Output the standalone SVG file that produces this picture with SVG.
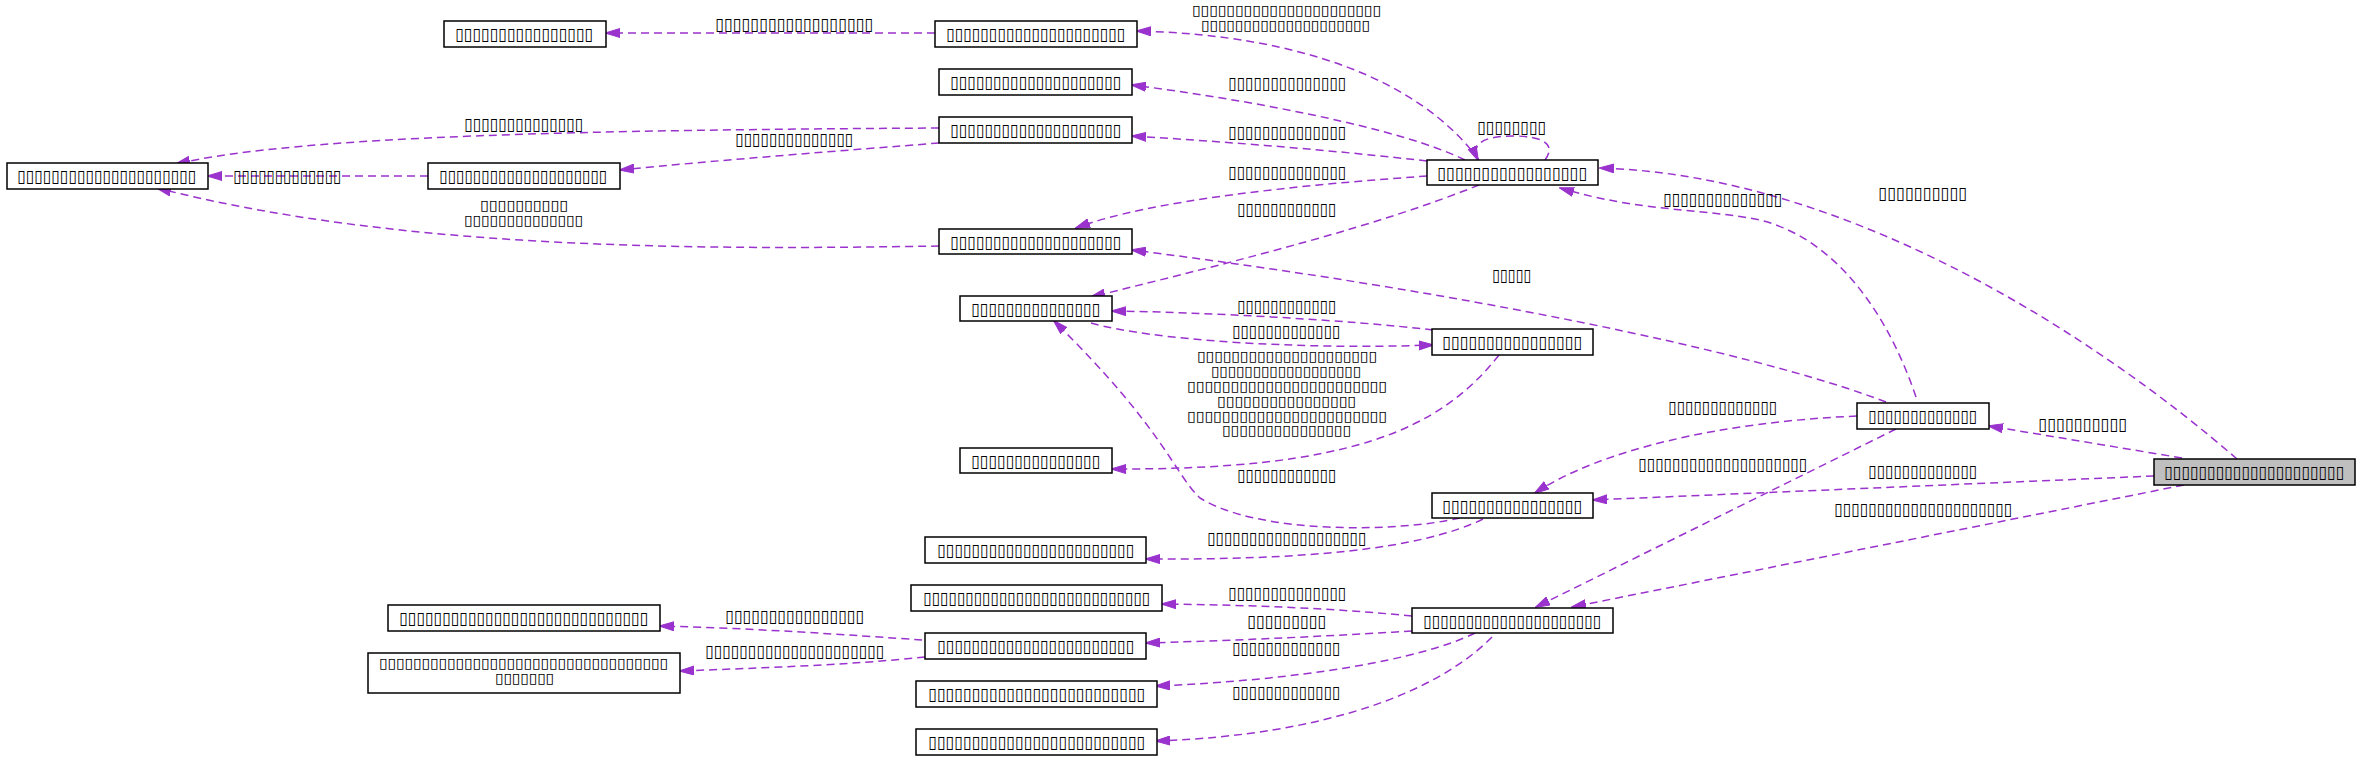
<svg xmlns="http://www.w3.org/2000/svg" width="2360" height="759" viewBox="0 0 2360 759">
<defs>
<style>
.n rect{fill:#ffffff;stroke:#000000;stroke-width:1.5}
.n.root rect{fill:#bfbfbf}
text{font-family:"DejaVu Sans","Noto Sans",sans-serif;font-size:17px;fill:#000000}
text.ml{font-size:14px}
.e path{fill:none;stroke:#9a32cd;stroke-width:1.5;stroke-dasharray:8,5;marker-end:url(#ah)}
</style>
<marker id="ah" markerWidth="15" markerHeight="10" refX="14" refY="5" orient="auto" markerUnits="userSpaceOnUse"><path d="M0,0.5 L15,5 L0,9.5 z" fill="#9a32cd" stroke="#9a32cd" stroke-width="1"/></marker>
</defs>
<rect x="0" y="0" width="2360" height="759" fill="#ffffff"/>

<g id="edges" class="e">
<path d="M935,33 L606,33"/>
<path d="M1479,160 C1420,80 1300,35 1137,31"/>
<path d="M1465,160 C1400,128 1250,100 1132,85"/>
<path d="M1545,160 C1556,145 1545,136 1513,136 C1485,136 1470,143 1478,160"/>
<path d="M1427,161 C1330,150 1230,142 1132,136"/>
<path d="M939,128 C600,130 300,135 176,164"/>
<path d="M939,143 C850,150 720,160 620,170"/>
<path d="M428,176 L208,176"/>
<path d="M939,246 C700,250 400,250 157,188"/>
<path d="M1427,176 C1300,185 1150,200 1076,228"/>
<path d="M1479,185 C1380,225 1250,258 1091,297"/>
<path d="M1886,402 C1750,350 1450,290 1132,250"/>
<path d="M1916,397 C1890,320 1840,240 1760,220 C1700,208 1640,212 1560,188"/>
<path d="M2237,459 C2100,340 1850,175 1600,168"/>
<path d="M1433,330 C1350,320 1200,312 1112,311"/>
<path d="M1091,323 C1150,340 1300,350 1433,345"/>
<path d="M1499,355 C1440,430 1350,470 1112,469"/>
<path d="M1857,416 C1720,422 1600,450 1535,493"/>
<path d="M2182,458 L1989,426"/>
<path d="M2154,476 L1593,500"/>
<path d="M1460,518 C1400,532 1260,535 1200,498 C1175,475 1165,430 1054,321"/>
<path d="M1896,429 L1536,607"/>
<path d="M2184,485 L1572,607"/>
<path d="M1483,519 C1420,550 1300,560 1146,559"/>
<path d="M1412,616 C1330,608 1250,605 1162,604"/>
<path d="M1412,631 C1330,636 1250,640 1146,643"/>
<path d="M922,640 C850,635 750,628 660,626"/>
<path d="M925,657 C850,665 760,668 680,671"/>
<path d="M1475,633 C1420,660 1300,680 1156,686"/>
<path d="M1492,637 C1440,690 1330,735 1156,741"/>
</g>

<g id="edge-labels">
<text x="715" y="30" textLength="158" lengthAdjust="spacingAndGlyphs">▯▯▯▯▯▯▯▯▯▯▯▯▯▯▯▯▯▯</text>
<text class="ml" x="1192" y="15" textLength="189" lengthAdjust="spacingAndGlyphs">▯▯▯▯▯▯▯▯▯▯▯▯▯▯▯▯▯▯▯▯▯▯</text>
<text class="ml" x="1201" y="30" textLength="169" lengthAdjust="spacingAndGlyphs">▯▯▯▯▯▯▯▯▯▯▯▯▯▯▯▯▯▯▯▯</text>
<text x="1228" y="89" textLength="118" lengthAdjust="spacingAndGlyphs">▯▯▯▯▯▯▯▯▯▯▯▯▯▯</text>
<text x="1477" y="133" textLength="69" lengthAdjust="spacingAndGlyphs">▯▯▯▯▯▯▯▯</text>
<text x="1228" y="138" textLength="118" lengthAdjust="spacingAndGlyphs">▯▯▯▯▯▯▯▯▯▯▯▯▯▯</text>
<text x="464" y="129.5" textLength="119" lengthAdjust="spacingAndGlyphs">▯▯▯▯▯▯▯▯▯▯▯▯▯▯</text>
<text x="735" y="145" textLength="118" lengthAdjust="spacingAndGlyphs">▯▯▯▯▯▯▯▯▯▯▯▯▯▯</text>
<text x="233" y="182" textLength="108" lengthAdjust="spacingAndGlyphs">▯▯▯▯▯▯▯▯▯▯▯▯▯</text>
<text class="ml" x="480" y="210" textLength="88" lengthAdjust="spacingAndGlyphs">▯▯▯▯▯▯▯▯▯▯</text>
<text class="ml" x="464" y="224.5" textLength="119" lengthAdjust="spacingAndGlyphs">▯▯▯▯▯▯▯▯▯▯▯▯▯▯</text>
<text x="1228" y="178" textLength="118" lengthAdjust="spacingAndGlyphs">▯▯▯▯▯▯▯▯▯▯▯▯▯▯</text>
<text x="1237" y="215" textLength="99" lengthAdjust="spacingAndGlyphs">▯▯▯▯▯▯▯▯▯▯▯▯</text>
<text x="1492" y="281" textLength="39" lengthAdjust="spacingAndGlyphs">▯▯▯▯▯</text>
<text x="1663" y="204.5" textLength="119" lengthAdjust="spacingAndGlyphs">▯▯▯▯▯▯▯▯▯▯▯▯▯▯</text>
<text x="1878" y="199" textLength="89" lengthAdjust="spacingAndGlyphs">▯▯▯▯▯▯▯▯▯▯</text>
<text x="1237" y="311.5" textLength="99" lengthAdjust="spacingAndGlyphs">▯▯▯▯▯▯▯▯▯▯▯▯</text>
<text x="1232" y="337" textLength="108" lengthAdjust="spacingAndGlyphs">▯▯▯▯▯▯▯▯▯▯▯▯▯</text>
<text class="ml" x="1197" y="361" textLength="180" lengthAdjust="spacingAndGlyphs">▯▯▯▯▯▯▯▯▯▯▯▯▯▯▯▯▯▯▯▯▯</text>
<text class="ml" x="1211" y="376" textLength="150" lengthAdjust="spacingAndGlyphs">▯▯▯▯▯▯▯▯▯▯▯▯▯▯▯▯▯▯</text>
<text class="ml" x="1187" y="391" textLength="200" lengthAdjust="spacingAndGlyphs">▯▯▯▯▯▯▯▯▯▯▯▯▯▯▯▯▯▯▯▯▯▯▯</text>
<text class="ml" x="1217" y="406" textLength="139" lengthAdjust="spacingAndGlyphs">▯▯▯▯▯▯▯▯▯▯▯▯▯▯▯▯</text>
<text class="ml" x="1187" y="420.5" textLength="200" lengthAdjust="spacingAndGlyphs">▯▯▯▯▯▯▯▯▯▯▯▯▯▯▯▯▯▯▯▯▯▯▯</text>
<text class="ml" x="1222" y="435" textLength="129" lengthAdjust="spacingAndGlyphs">▯▯▯▯▯▯▯▯▯▯▯▯▯▯▯</text>
<text x="1668" y="413" textLength="109" lengthAdjust="spacingAndGlyphs">▯▯▯▯▯▯▯▯▯▯▯▯▯</text>
<text x="2038" y="429.5" textLength="89" lengthAdjust="spacingAndGlyphs">▯▯▯▯▯▯▯▯▯▯</text>
<text x="1868" y="476.5" textLength="109" lengthAdjust="spacingAndGlyphs">▯▯▯▯▯▯▯▯▯▯▯▯▯</text>
<text x="1237" y="481" textLength="99" lengthAdjust="spacingAndGlyphs">▯▯▯▯▯▯▯▯▯▯▯▯</text>
<text x="1638" y="469.5" textLength="169" lengthAdjust="spacingAndGlyphs">▯▯▯▯▯▯▯▯▯▯▯▯▯▯▯▯▯▯▯▯</text>
<text x="1834" y="515" textLength="178" lengthAdjust="spacingAndGlyphs">▯▯▯▯▯▯▯▯▯▯▯▯▯▯▯▯▯▯▯▯▯</text>
<text x="1207" y="544" textLength="159" lengthAdjust="spacingAndGlyphs">▯▯▯▯▯▯▯▯▯▯▯▯▯▯▯▯▯▯▯</text>
<text x="1228" y="599" textLength="118" lengthAdjust="spacingAndGlyphs">▯▯▯▯▯▯▯▯▯▯▯▯▯▯</text>
<text x="1247" y="627" textLength="79" lengthAdjust="spacingAndGlyphs">▯▯▯▯▯▯▯▯▯</text>
<text x="725" y="621.5" textLength="139" lengthAdjust="spacingAndGlyphs">▯▯▯▯▯▯▯▯▯▯▯▯▯▯▯▯</text>
<text x="705" y="656.5" textLength="179" lengthAdjust="spacingAndGlyphs">▯▯▯▯▯▯▯▯▯▯▯▯▯▯▯▯▯▯▯▯▯</text>
<text x="1232" y="654" textLength="108" lengthAdjust="spacingAndGlyphs">▯▯▯▯▯▯▯▯▯▯▯▯▯</text>
<text x="1232" y="698" textLength="108" lengthAdjust="spacingAndGlyphs">▯▯▯▯▯▯▯▯▯▯▯▯▯</text>
</g>

<g id="n1" class="n"><rect x="444" y="21" width="162" height="26"/><text x="455" y="40" textLength="138" lengthAdjust="spacingAndGlyphs">▯▯▯▯▯▯▯▯▯▯▯▯▯▯▯▯</text></g>
<g id="n2" class="n"><rect x="935" y="21" width="202" height="26"/><text x="946" y="40" textLength="179" lengthAdjust="spacingAndGlyphs">▯▯▯▯▯▯▯▯▯▯▯▯▯▯▯▯▯▯▯▯▯</text></g>
<g id="n3" class="n"><rect x="939" y="69" width="193" height="26"/><text x="950" y="88" textLength="171" lengthAdjust="spacingAndGlyphs">▯▯▯▯▯▯▯▯▯▯▯▯▯▯▯▯▯▯▯▯</text></g>
<g id="n4" class="n"><rect x="939" y="117" width="193" height="26"/><text x="950" y="136" textLength="171" lengthAdjust="spacingAndGlyphs">▯▯▯▯▯▯▯▯▯▯▯▯▯▯▯▯▯▯▯▯</text></g>
<g id="n5" class="n"><rect x="7" y="163" width="201" height="26"/><text x="17" y="182" textLength="179" lengthAdjust="spacingAndGlyphs">▯▯▯▯▯▯▯▯▯▯▯▯▯▯▯▯▯▯▯▯▯</text></g>
<g id="n6" class="n"><rect x="428" y="163" width="192" height="26"/><text x="439" y="182" textLength="168" lengthAdjust="spacingAndGlyphs">▯▯▯▯▯▯▯▯▯▯▯▯▯▯▯▯▯▯▯▯</text></g>
<g id="n7" class="n"><rect x="1427" y="160" width="171" height="25"/><text x="1437" y="178.5" textLength="150" lengthAdjust="spacingAndGlyphs">▯▯▯▯▯▯▯▯▯▯▯▯▯▯▯▯▯</text></g>
<g id="n8" class="n"><rect x="939" y="229" width="193" height="25"/><text x="950" y="247.5" textLength="171" lengthAdjust="spacingAndGlyphs">▯▯▯▯▯▯▯▯▯▯▯▯▯▯▯▯▯▯▯▯</text></g>
<g id="n9" class="n"><rect x="960" y="296" width="152" height="25"/><text x="971" y="314.5" textLength="129" lengthAdjust="spacingAndGlyphs">▯▯▯▯▯▯▯▯▯▯▯▯▯▯▯</text></g>
<g id="n10" class="n"><rect x="1432" y="329" width="161" height="26"/><text x="1442" y="348" textLength="140" lengthAdjust="spacingAndGlyphs">▯▯▯▯▯▯▯▯▯▯▯▯▯▯▯▯</text></g>
<g id="n11" class="n"><rect x="960" y="448" width="152" height="25"/><text x="971" y="466.5" textLength="129" lengthAdjust="spacingAndGlyphs">▯▯▯▯▯▯▯▯▯▯▯▯▯▯▯</text></g>
<g id="n12" class="n"><rect x="1857" y="403" width="132" height="26"/><text x="1868" y="422" textLength="109" lengthAdjust="spacingAndGlyphs">▯▯▯▯▯▯▯▯▯▯▯▯▯</text></g>
<g id="n13" class="n root"><rect x="2154" y="459" width="201" height="26"/><text x="2164" y="478" textLength="180" lengthAdjust="spacingAndGlyphs">▯▯▯▯▯▯▯▯▯▯▯▯▯▯▯▯▯▯▯▯▯</text></g>
<g id="n14" class="n"><rect x="1432" y="493" width="161" height="25"/><text x="1442" y="511.5" textLength="140" lengthAdjust="spacingAndGlyphs">▯▯▯▯▯▯▯▯▯▯▯▯▯▯▯▯</text></g>
<g id="n15" class="n"><rect x="925" y="537" width="221" height="26"/><text x="937" y="556" textLength="197" lengthAdjust="spacingAndGlyphs">▯▯▯▯▯▯▯▯▯▯▯▯▯▯▯▯▯▯▯▯▯▯▯</text></g>
<g id="n16" class="n"><rect x="388" y="605" width="272" height="26"/><text x="399" y="624" textLength="249" lengthAdjust="spacingAndGlyphs">▯▯▯▯▯▯▯▯▯▯▯▯▯▯▯▯▯▯▯▯▯▯▯▯▯▯▯▯▯</text></g>
<g id="n17" class="n"><rect x="911" y="585" width="251" height="26"/><text x="923" y="604" textLength="227" lengthAdjust="spacingAndGlyphs">▯▯▯▯▯▯▯▯▯▯▯▯▯▯▯▯▯▯▯▯▯▯▯▯▯▯▯</text></g>
<g id="n18" class="n"><rect x="1412" y="608" width="201" height="25"/><text x="1423" y="626.5" textLength="178" lengthAdjust="spacingAndGlyphs">▯▯▯▯▯▯▯▯▯▯▯▯▯▯▯▯▯▯▯▯▯</text></g>
<g id="n19" class="n"><rect x="925" y="633" width="221" height="26"/><text x="937" y="652" textLength="197" lengthAdjust="spacingAndGlyphs">▯▯▯▯▯▯▯▯▯▯▯▯▯▯▯▯▯▯▯▯▯▯▯</text></g>
<g id="n20" class="n"><rect x="368" y="653" width="312" height="40"/><text class="ml" x="379" y="668" textLength="289" lengthAdjust="spacingAndGlyphs">▯▯▯▯▯▯▯▯▯▯▯▯▯▯▯▯▯▯▯▯▯▯▯▯▯▯▯▯▯▯▯▯▯▯</text><text class="ml" x="495" y="683" textLength="59" lengthAdjust="spacingAndGlyphs">▯▯▯▯▯▯▯</text></g>
<g id="n21" class="n"><rect x="916" y="681" width="241" height="26"/><text x="928" y="700" textLength="217" lengthAdjust="spacingAndGlyphs">▯▯▯▯▯▯▯▯▯▯▯▯▯▯▯▯▯▯▯▯▯▯▯▯▯</text></g>
<g id="n22" class="n"><rect x="916" y="729" width="241" height="26"/><text x="928" y="748" textLength="217" lengthAdjust="spacingAndGlyphs">▯▯▯▯▯▯▯▯▯▯▯▯▯▯▯▯▯▯▯▯▯▯▯▯▯</text></g>
</svg>
